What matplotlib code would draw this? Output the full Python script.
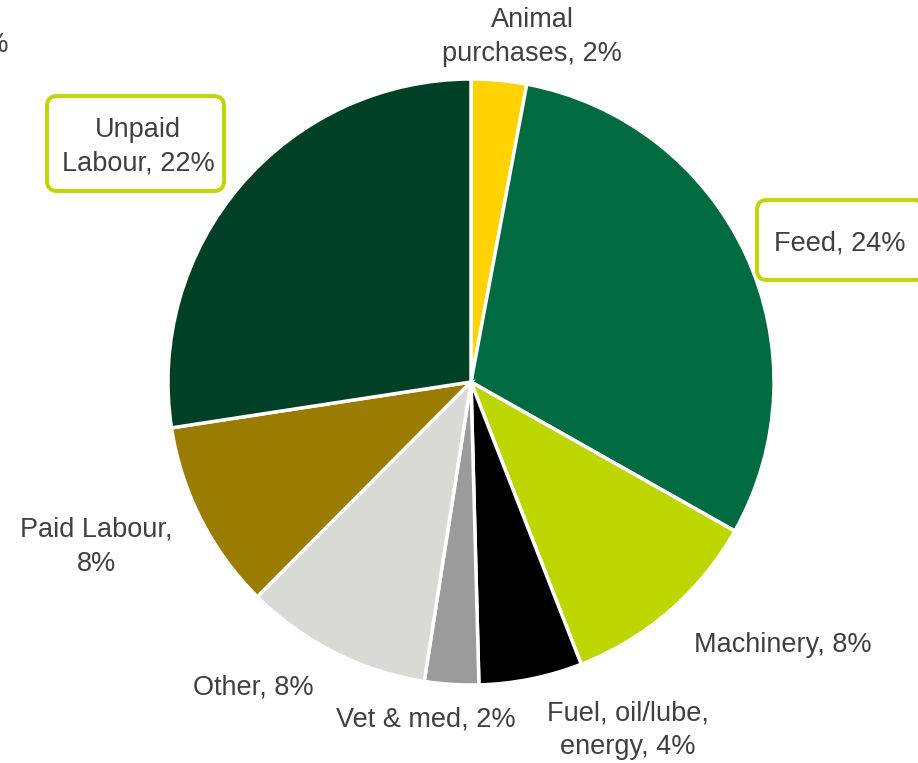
import matplotlib
matplotlib.use("Agg")
import matplotlib.pyplot as plt
from matplotlib.patches import FancyBboxPatch

plt.rcParams['font.family'] = ['Liberation Sans', 'DejaVu Sans']

categories = ["Animal purchases", "Feed", "Machinery", "Fuel, oil/lube, energy",
              "Vet & med", "Other", "Paid Labour", "Unpaid Labour"]
values = [2.3, 23.6, 8.5, 4.3, 2.25, 7.8, 7.9, 21.4]
labels = ["Animal\npurchases, 2%", "Feed, 24%", "Machinery, 8%", "Fuel, oil/lube,\nenergy, 4%",
          "Vet & med, 2%", "Other, 8%", "Paid Labour,\n8%", "Unpaid\nLabour, 22%"]
colors = ["#FFD200", "#006A41", "#BED600", "#000000",
          "#9B9B9B", "#D9D9D6", "#9A7D00", "#004027"]
hidden_label = "22%"

W, H = 918, 763
fig = plt.figure(figsize=(W / 100, H / 100), dpi=100)
ax = fig.add_axes([0, 0, 1, 1])

cx, cy, r = 471, H - 382, 303
ax.pie(values, colors=colors, startangle=90, counterclock=False,
       center=(cx, cy), radius=r, frame=True,
       wedgeprops=dict(edgecolor='white', linewidth=2.5))
ax.set_xlim(0, W)
ax.set_ylim(0, H)
ax.set_aspect('equal')
ax.axis('off')

label_pos = [(532, 37), (840, 243), (783, 645), (628, 730),
             (426, 719), (253, 688), (96, 547), (138, 147)]
tc = "#404040"
for lab, (x, y) in zip(labels, label_pos):
    ax.text(x, H - y, lab, ha='center', va='center', fontsize=19.5,
            color=tc, linespacing=1.4)

# highlighted boxes
for (x0, y0, x1, y1) in [(47, 96, 224, 191), (757, 200, 926, 280)]:
    ax.add_patch(FancyBboxPatch((x0 + 10, H - y1 + 10), (x1 - x0) - 20, (y1 - y0) - 20,
                                boxstyle="round,pad=10", facecolor='none',
                                edgecolor="#BED600", linewidth=2.8, zorder=5,
                                clip_on=False))

ax.text(9, H - 45, hidden_label, ha='right', va='center', fontsize=19.5, color=tc)

fig.savefig("out.png", dpi=100)
